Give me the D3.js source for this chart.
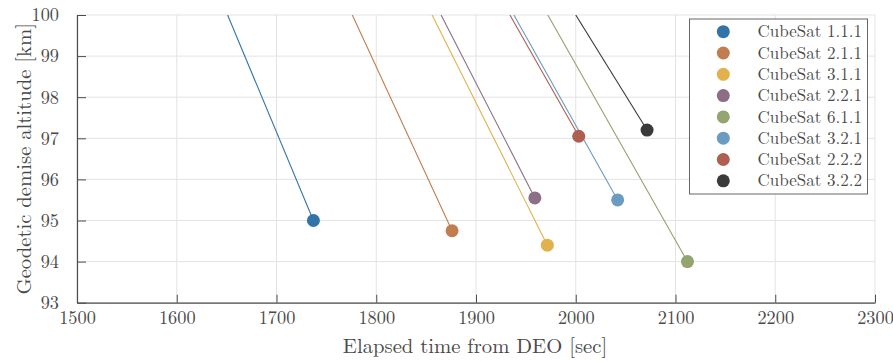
<!DOCTYPE html>
<html>
<head>
<meta charset="utf-8">
<script src="https://cdn.jsdelivr.net/npm/d3@7"></script>
<style>
  html, body { margin: 0; padding: 0; background: #fff; }
  svg { display: block; }
</style>
</head>
<body>
<svg id="chart" width="893" height="363"></svg>
<script>
// Demise events: the trajectory enters the window at 100 km and ends at the demise point.
const satellites = ["CubeSat 1.1.1", "CubeSat 2.1.1", "CubeSat 3.1.1", "CubeSat 2.2.1",
                    "CubeSat 6.1.1", "CubeSat 3.2.1", "CubeSat 2.2.2", "CubeSat 3.2.2"];
const entryTime100km = [1651, 1776, 1856, 1865, 1972, 1938, 1934, 2000];
const demiseTime     = [1737, 1876, 1971.5, 1959, 2112, 2042, 2003, 2071.5];
const demiseAltitude = [95.0, 94.75, 94.4, 95.55, 94.0, 95.5, 97.05, 97.2];
const colors = ["#3274a8", "#c17d4f", "#e1b14e", "#8e6e86", "#93a46e", "#6a9bc0", "#af5f50", "#3a3a3a"];

const xTicks = [1500, 1600, 1700, 1800, 1900, 2000, 2100, 2200, 2300];
const yTicks = [93, 94, 95, 96, 97, 98, 99, 100];

const FONT = '"Latin Modern Roman", "CMU Serif", "Liberation Serif", serif';
const TEXT = "#4a4a4a";

const svg = d3.select("#chart");
const x = d3.scaleLinear().domain([1500, 2300]).range([77, 875]);
const y = d3.scaleLinear().domain([93, 100]).range([302.7, 15]);

// grid
const grid = svg.append("g");
grid.selectAll(".gx").data(xTicks).join("line")
  .attr("x1", d => x(d)).attr("x2", d => x(d))
  .attr("y1", y(93)).attr("y2", y(100))
  .attr("stroke", "#e3e3e3").attr("stroke-width", 1);
grid.selectAll(".gy").data(yTicks).join("line")
  .attr("x1", x(1500)).attr("x2", x(2300))
  .attr("y1", d => y(d)).attr("y2", d => y(d))
  .attr("stroke", "#e3e3e3").attr("stroke-width", 1);

// axes with inward ticks
const xAxis = svg.append("g").attr("transform", `translate(0,${y(93)})`)
  .call(d3.axisBottom(x).tickValues(xTicks).tickSize(-8).tickPadding(17).tickSizeOuter(0).tickFormat(d3.format("d")));
const yAxis = svg.append("g").attr("transform", `translate(${x(1500)},0)`)
  .call(d3.axisLeft(y).tickValues(yTicks).tickSize(-9).tickPadding(18).tickSizeOuter(0).tickFormat(d3.format("d")));
[xAxis, yAxis].forEach(a => {
  a.select(".domain").attr("stroke", "#4d4d4d").attr("stroke-width", 1.2);
  a.selectAll(".tick line").attr("stroke", "#4d4d4d").attr("stroke-width", 1);
  a.selectAll(".tick text").attr("fill", TEXT)
    .style("font-family", FONT).style("font-size", "18.3px");
});
xAxis.selectAll(".tick text").attr("dy", "0.25em");

// trajectories clipped to the plot area
svg.append("clipPath").attr("id", "plotclip").append("rect")
  .attr("x", x(1500)).attr("y", y(100)).attr("width", x(2300) - x(1500)).attr("height", y(93) - y(100));

const rows = satellites.map((name, i) => ({
  name, color: colors[i],
  path: [[entryTime100km[i], 100], [demiseTime[i], demiseAltitude[i]]]
}));

const line = d3.line().x(d => x(d[0])).y(d => y(d[1]));
const plot = svg.append("g").attr("clip-path", "url(#plotclip)");
plot.selectAll("path.traj").data(rows).join("path")
  .attr("class", "traj")
  .attr("d", d => line(d.path))
  .attr("fill", "none").attr("stroke", d => d.color).attr("stroke-width", 1.1);

svg.append("g").selectAll("circle").data(rows).join("circle")
  .attr("cx", d => x(d.path[1][0])).attr("cy", d => y(d.path[1][1]))
  .attr("r", 6.5).attr("fill", d => d.color);

// axis titles
svg.append("text")
  .attr("x", 475).attr("y", 353)
  .attr("text-anchor", "middle")
  .attr("fill", TEXT)
  .style("font-family", FONT).style("font-size", "20.7px")
  .text("Elapsed time from DEO [sec]");
svg.append("text")
  .attr("transform", `translate(31,${(y(93) + y(100)) / 2}) rotate(-90)`)
  .attr("text-anchor", "middle")
  .attr("fill", TEXT)
  .style("font-family", FONT).style("font-size", "20.7px")
  .text("Geodetic demise altitude [km]");

// legend
const legend = svg.append("g");
legend.append("rect")
  .attr("x", 689.5).attr("y", 19).attr("width", 178).attr("height", 175)
  .attr("fill", "#fff").attr("stroke", "#666").attr("stroke-width", 1);
const items = legend.selectAll("g.item").data(rows).join("g")
  .attr("class", "item")
  .attr("transform", (d, i) => `translate(0,${31.7 + i * 21.3})`);
items.append("circle").attr("cx", 723.3).attr("cy", 0).attr("r", 6.5).attr("fill", d => d.color);
items.append("text")
  .attr("x", 757.5).attr("y", 0).attr("dy", "0.33em")
  .attr("fill", TEXT)
  .style("font-family", FONT).style("font-size", "17px")
  .text(d => d.name);
</script>
</body>
</html>
